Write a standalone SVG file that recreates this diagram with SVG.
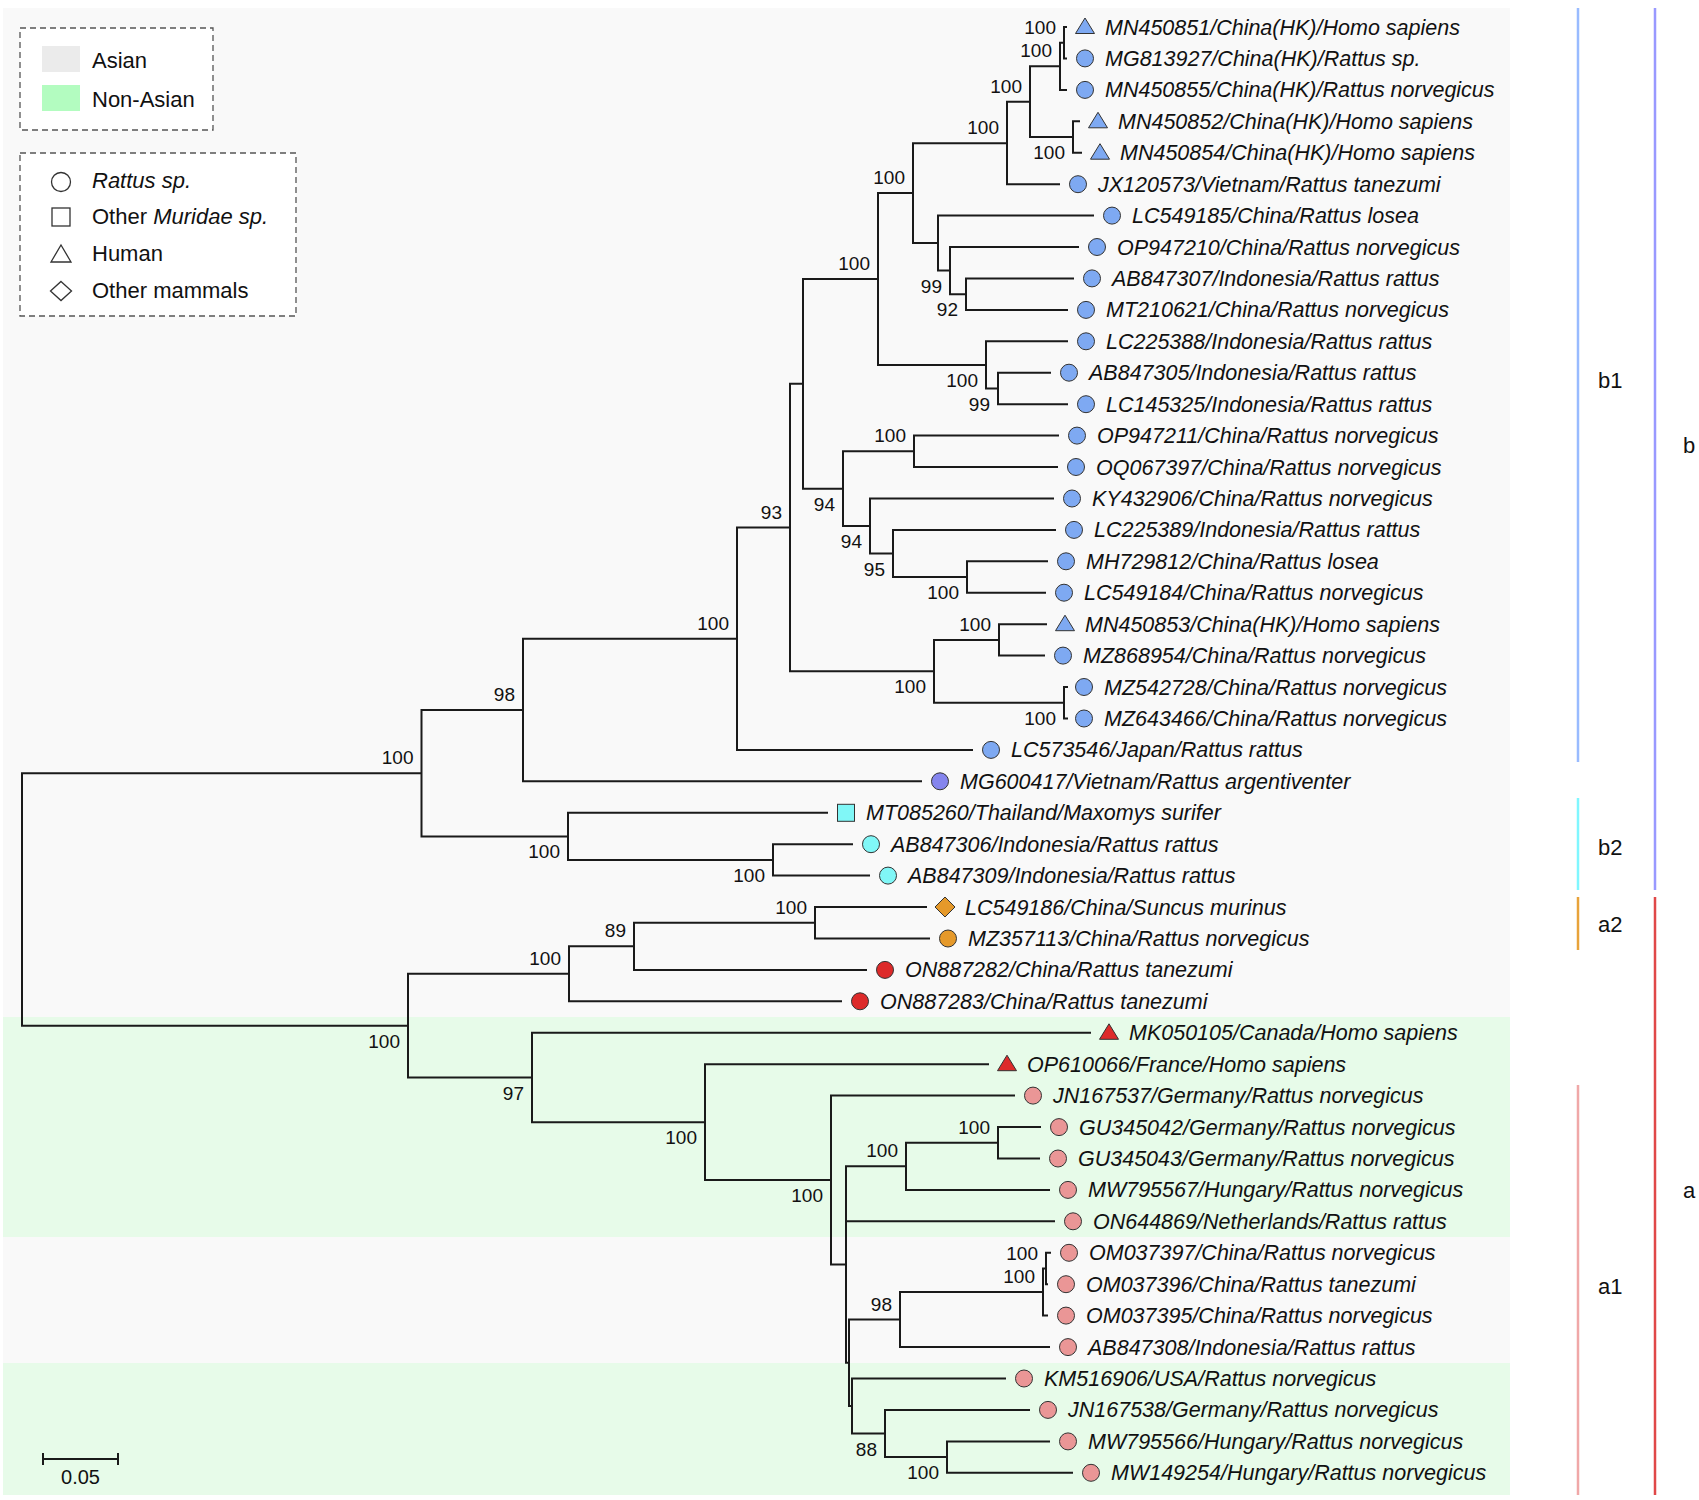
<svg xmlns="http://www.w3.org/2000/svg" xmlns:xlink="http://www.w3.org/1999/xlink" width="1699" height="1500" viewBox="0 0 1699 1500">
<style>
text{font-family:"Liberation Sans",Arial,sans-serif;fill:#111}
.lf{font-size:21.5px;font-style:italic}
.bs{font-size:19px;text-anchor:end}
.lg{font-size:22px}
.cl{font-size:22px}
.br{fill:none;stroke:#1a1a1a;stroke-width:2}
.sym{stroke:#333;stroke-width:1}
.blue{fill:#7ea9f2}.purple{fill:#8585ee}.cyan{fill:#80f7f7}.orange{fill:#e5992a}.red{fill:#dd2a2a}.pink{fill:#ea9696}
.open{fill:#fff;stroke:#333;stroke-width:1.3}
.box{fill:#fff;stroke:#555;stroke-width:1.3;stroke-dasharray:6,4}
.bar{stroke-width:2.5;fill:none}
</style>
<defs>
<circle id="ci" r="8.5"/>
<polygon id="tr" points="0,-9 9.5,6.5 -9.5,6.5"/>
<rect id="sq" x="-8.5" y="-8.5" width="17" height="17"/>
<polygon id="di" points="0,-10 10,0 0,10 -10,0"/>
</defs>
<g id="background">
<rect x="3" y="8" width="1507" height="1009" fill="#f9f9f9"/>
<rect x="3" y="1017" width="1507" height="220" fill="#e7fbe9"/>
<rect x="3" y="1237" width="1507" height="126" fill="#f9f9f9"/>
<rect x="3" y="1363" width="1507" height="132" fill="#e7fbe9"/>
</g>
<g id="legend-region">
<rect class="box" x="20" y="28" width="193" height="102"/>
<rect x="42" y="46" width="38" height="26" fill="#ebebeb"/>
<rect x="42" y="85" width="38" height="26" fill="#b3fcc0"/>
<text class="lg" x="92" y="68">Asian</text>
<text class="lg" x="92" y="107">Non-Asian</text>
</g>
<g id="legend-host">
<rect class="box" x="20" y="153" width="276" height="163"/>
<circle class="open" cx="61" cy="182" r="9.5"/>
<rect class="open" x="52" y="208" width="18" height="18"/>
<polygon class="open" points="61,245 71,262 51,262"/>
<polygon class="open" points="61,281.5 71.5,291 61,300.5 50.5,291"/>
<text class="lg" x="92" y="188" font-style="italic">Rattus sp.</text>
<text class="lg" x="92" y="224">Other <tspan font-style="italic">Muridae sp.</tspan></text>
<text class="lg" x="92" y="261">Human</text>
<text class="lg" x="92" y="298">Other mammals</text>
</g>
<g id="connectors" class="br">
<path d="M421.5,773.2H22V1025.7H408"/>
<path d="M523,710H421.5V836.4H568"/>
<path d="M737,638.7H523V781.3H922"/>
<path d="M790,527.5H737V749.9H973"/>
<path d="M803,383.8H790V671.3H934"/>
<path d="M878,279H803V488.7H843"/>
<path d="M913,193H878V364.9H986"/>
<path d="M1007,143.2H913V243.1H938"/>
<path d="M1030,101.7H1007V184.2H1060"/>
<path d="M1060,66.3H1030V137H1073"/>
<path d="M1064,42.7H1060V89.9H1067"/>
<path d="M1067,27H1064V58.4H1067"/>
<path d="M1080,121.3H1073V152.7H1082"/>
<path d="M1094,215.6H938V270.6H950"/>
<path d="M1079,247H950V294.2H966"/>
<path d="M1074,278.4H966V309.9H1068"/>
<path d="M1068,341.3H986V388.5H998"/>
<path d="M1051,372.7H998V404.2H1068"/>
<path d="M914,451.3H843V526H870"/>
<path d="M1059,435.6H914V467H1058"/>
<path d="M1054,498.5H870V553.5H893"/>
<path d="M1056,529.9H893V577H967"/>
<path d="M1048,561.3H967V592.7H1046"/>
<path d="M999,639.9H934V702.7H1064"/>
<path d="M1047,624.2H999V655.6H1045"/>
<path d="M1068,687H1064V718.5H1068"/>
<path d="M828,812.8H568V859.9H773"/>
<path d="M853,844.2H773V875.6H870"/>
<path d="M569,973.8H408V1077.5H532"/>
<path d="M634,946.3H569V1001.3H842"/>
<path d="M815,922.8H634V969.9H867"/>
<path d="M927,907H815V938.5H930"/>
<path d="M1091,1032.8H532V1122.2H705"/>
<path d="M989,1064.2H705V1180.1H831"/>
<path d="M1015,1095.6H831V1264.6H846"/>
<path d="M906,1166.3H846V1362.8H849M846,1221.3H1055"/>
<path d="M998,1142.8H906V1189.9H1050"/>
<path d="M1041,1127.1H998V1158.5H1040"/>
<path d="M900,1319.6H849V1406H852"/>
<path d="M1043,1292H900V1347.1H1050"/>
<path d="M1046,1268.5H1043V1315.6H1048"/>
<path d="M1051,1252.8H1046V1284.2H1048"/>
<path d="M1006,1378.5H852V1433.5H885"/>
<path d="M1030,1409.9H885V1457.1H947"/>
<path d="M1050,1441.4H947V1472.8H1073"/>
</g>
<g id="support-values">
<text class="bs" x="413.5" y="764.2">100</text>
<text class="bs" x="515" y="701">98</text>
<text class="bs" x="729" y="629.7">100</text>
<text class="bs" x="782" y="518.5">93</text>
<text class="bs" x="870" y="270">100</text>
<text class="bs" x="905" y="184">100</text>
<text class="bs" x="999" y="134.2">100</text>
<text class="bs" x="1022" y="92.7">100</text>
<text class="bs" x="1052" y="57.3">100</text>
<text class="bs" x="1056" y="33.7">100</text>
<text class="bs" x="1065" y="159">100</text>
<text class="bs" x="942" y="292.6">99</text>
<text class="bs" x="958" y="316.2">92</text>
<text class="bs" x="978" y="386.9">100</text>
<text class="bs" x="990" y="410.5">99</text>
<text class="bs" x="835" y="510.7">94</text>
<text class="bs" x="906" y="442.3">100</text>
<text class="bs" x="862" y="548">94</text>
<text class="bs" x="885" y="575.5">95</text>
<text class="bs" x="959" y="599">100</text>
<text class="bs" x="926" y="693.3">100</text>
<text class="bs" x="991" y="630.9">100</text>
<text class="bs" x="1056" y="724.7">100</text>
<text class="bs" x="560" y="858.4">100</text>
<text class="bs" x="765" y="881.9">100</text>
<text class="bs" x="400" y="1047.7">100</text>
<text class="bs" x="561" y="964.8">100</text>
<text class="bs" x="626" y="937.3">89</text>
<text class="bs" x="807" y="913.8">100</text>
<text class="bs" x="524" y="1099.5">97</text>
<text class="bs" x="697" y="1144.2">100</text>
<text class="bs" x="823" y="1202.1">100</text>
<text class="bs" x="898" y="1157.3">100</text>
<text class="bs" x="990" y="1133.8">100</text>
<text class="bs" x="892" y="1310.6">98</text>
<text class="bs" x="1035" y="1283">100</text>
<text class="bs" x="1038" y="1259.5">100</text>
<text class="bs" x="877" y="1455.5">88</text>
<text class="bs" x="939" y="1479.1">100</text>
</g>
<g id="leaves">
<g id="MN450851"><use href="#tr" x="1085" y="27" class="sym blue"/><text class="lf" x="1105" y="34.5">MN450851/China(HK)/Homo sapiens</text></g>
<g id="MG813927"><use href="#ci" x="1085" y="58.4" class="sym blue"/><text class="lf" x="1105" y="65.9">MG813927/China(HK)/Rattus sp.</text></g>
<g id="MN450855"><use href="#ci" x="1085" y="89.9" class="sym blue"/><text class="lf" x="1105" y="97.4">MN450855/China(HK)/Rattus norvegicus</text></g>
<g id="MN450852"><use href="#tr" x="1098" y="121.3" class="sym blue"/><text class="lf" x="1118" y="128.8">MN450852/China(HK)/Homo sapiens</text></g>
<g id="MN450854"><use href="#tr" x="1100" y="152.7" class="sym blue"/><text class="lf" x="1120" y="160.2">MN450854/China(HK)/Homo sapiens</text></g>
<g id="JX120573"><use href="#ci" x="1078" y="184.2" class="sym blue"/><text class="lf" x="1098" y="191.7">JX120573/Vietnam/Rattus tanezumi</text></g>
<g id="LC549185"><use href="#ci" x="1112" y="215.6" class="sym blue"/><text class="lf" x="1132" y="223.1">LC549185/China/Rattus losea</text></g>
<g id="OP947210"><use href="#ci" x="1097" y="247" class="sym blue"/><text class="lf" x="1117" y="254.5">OP947210/China/Rattus norvegicus</text></g>
<g id="AB847307"><use href="#ci" x="1092" y="278.4" class="sym blue"/><text class="lf" x="1112" y="285.9">AB847307/Indonesia/Rattus rattus</text></g>
<g id="MT210621"><use href="#ci" x="1086" y="309.9" class="sym blue"/><text class="lf" x="1106" y="317.4">MT210621/China/Rattus norvegicus</text></g>
<g id="LC225388"><use href="#ci" x="1086" y="341.3" class="sym blue"/><text class="lf" x="1106" y="348.8">LC225388/Indonesia/Rattus rattus</text></g>
<g id="AB847305"><use href="#ci" x="1069" y="372.7" class="sym blue"/><text class="lf" x="1089" y="380.2">AB847305/Indonesia/Rattus rattus</text></g>
<g id="LC145325"><use href="#ci" x="1086" y="404.2" class="sym blue"/><text class="lf" x="1106" y="411.7">LC145325/Indonesia/Rattus rattus</text></g>
<g id="OP947211"><use href="#ci" x="1077" y="435.6" class="sym blue"/><text class="lf" x="1097" y="443.1">OP947211/China/Rattus norvegicus</text></g>
<g id="OQ067397"><use href="#ci" x="1076" y="467" class="sym blue"/><text class="lf" x="1096" y="474.5">OQ067397/China/Rattus norvegicus</text></g>
<g id="KY432906"><use href="#ci" x="1072" y="498.5" class="sym blue"/><text class="lf" x="1092" y="506">KY432906/China/Rattus norvegicus</text></g>
<g id="LC225389"><use href="#ci" x="1074" y="529.9" class="sym blue"/><text class="lf" x="1094" y="537.4">LC225389/Indonesia/Rattus rattus</text></g>
<g id="MH729812"><use href="#ci" x="1066" y="561.3" class="sym blue"/><text class="lf" x="1086" y="568.8">MH729812/China/Rattus losea</text></g>
<g id="LC549184"><use href="#ci" x="1064" y="592.7" class="sym blue"/><text class="lf" x="1084" y="600.2">LC549184/China/Rattus norvegicus</text></g>
<g id="MN450853"><use href="#tr" x="1065" y="624.2" class="sym blue"/><text class="lf" x="1085" y="631.7">MN450853/China(HK)/Homo sapiens</text></g>
<g id="MZ868954"><use href="#ci" x="1063" y="655.6" class="sym blue"/><text class="lf" x="1083" y="663.1">MZ868954/China/Rattus norvegicus</text></g>
<g id="MZ542728"><use href="#ci" x="1084" y="687" class="sym blue"/><text class="lf" x="1104" y="694.5">MZ542728/China/Rattus norvegicus</text></g>
<g id="MZ643466"><use href="#ci" x="1084" y="718.5" class="sym blue"/><text class="lf" x="1104" y="726">MZ643466/China/Rattus norvegicus</text></g>
<g id="LC573546"><use href="#ci" x="991" y="749.9" class="sym blue"/><text class="lf" x="1011" y="757.4">LC573546/Japan/Rattus rattus</text></g>
<g id="MG600417"><use href="#ci" x="940" y="781.3" class="sym purple"/><text class="lf" x="960" y="788.8">MG600417/Vietnam/Rattus argentiventer</text></g>
<g id="MT085260"><use href="#sq" x="846" y="812.8" class="sym cyan"/><text class="lf" x="866" y="820.3">MT085260/Thailand/Maxomys surifer</text></g>
<g id="AB847306"><use href="#ci" x="871" y="844.2" class="sym cyan"/><text class="lf" x="891" y="851.7">AB847306/Indonesia/Rattus rattus</text></g>
<g id="AB847309"><use href="#ci" x="888" y="875.6" class="sym cyan"/><text class="lf" x="908" y="883.1">AB847309/Indonesia/Rattus rattus</text></g>
<g id="LC549186"><use href="#di" x="945" y="907" class="sym orange"/><text class="lf" x="965" y="914.5">LC549186/China/Suncus murinus</text></g>
<g id="MZ357113"><use href="#ci" x="948" y="938.5" class="sym orange"/><text class="lf" x="968" y="946">MZ357113/China/Rattus norvegicus</text></g>
<g id="ON887282"><use href="#ci" x="885" y="969.9" class="sym red"/><text class="lf" x="905" y="977.4">ON887282/China/Rattus tanezumi</text></g>
<g id="ON887283"><use href="#ci" x="860" y="1001.3" class="sym red"/><text class="lf" x="880" y="1008.8">ON887283/China/Rattus tanezumi</text></g>
<g id="MK050105"><use href="#tr" x="1109" y="1032.8" class="sym red"/><text class="lf" x="1129" y="1040.3">MK050105/Canada/Homo sapiens</text></g>
<g id="OP610066"><use href="#tr" x="1007" y="1064.2" class="sym red"/><text class="lf" x="1027" y="1071.7">OP610066/France/Homo sapiens</text></g>
<g id="JN167537"><use href="#ci" x="1033" y="1095.6" class="sym pink"/><text class="lf" x="1053" y="1103.1">JN167537/Germany/Rattus norvegicus</text></g>
<g id="GU345042"><use href="#ci" x="1059" y="1127.1" class="sym pink"/><text class="lf" x="1079" y="1134.6">GU345042/Germany/Rattus norvegicus</text></g>
<g id="GU345043"><use href="#ci" x="1058" y="1158.5" class="sym pink"/><text class="lf" x="1078" y="1166">GU345043/Germany/Rattus norvegicus</text></g>
<g id="MW795567"><use href="#ci" x="1068" y="1189.9" class="sym pink"/><text class="lf" x="1088" y="1197.4">MW795567/Hungary/Rattus norvegicus</text></g>
<g id="ON644869"><use href="#ci" x="1073" y="1221.3" class="sym pink"/><text class="lf" x="1093" y="1228.8">ON644869/Netherlands/Rattus rattus</text></g>
<g id="OM037397"><use href="#ci" x="1069" y="1252.8" class="sym pink"/><text class="lf" x="1089" y="1260.3">OM037397/China/Rattus norvegicus</text></g>
<g id="OM037396"><use href="#ci" x="1066" y="1284.2" class="sym pink"/><text class="lf" x="1086" y="1291.7">OM037396/China/Rattus tanezumi</text></g>
<g id="OM037395"><use href="#ci" x="1066" y="1315.6" class="sym pink"/><text class="lf" x="1086" y="1323.1">OM037395/China/Rattus norvegicus</text></g>
<g id="AB847308"><use href="#ci" x="1068" y="1347.1" class="sym pink"/><text class="lf" x="1088" y="1354.6">AB847308/Indonesia/Rattus rattus</text></g>
<g id="KM516906"><use href="#ci" x="1024" y="1378.5" class="sym pink"/><text class="lf" x="1044" y="1386">KM516906/USA/Rattus norvegicus</text></g>
<g id="JN167538"><use href="#ci" x="1048" y="1409.9" class="sym pink"/><text class="lf" x="1068" y="1417.4">JN167538/Germany/Rattus norvegicus</text></g>
<g id="MW795566"><use href="#ci" x="1068" y="1441.4" class="sym pink"/><text class="lf" x="1088" y="1448.9">MW795566/Hungary/Rattus norvegicus</text></g>
<g id="MW149254"><use href="#ci" x="1091" y="1472.8" class="sym pink"/><text class="lf" x="1111" y="1480.3">MW149254/Hungary/Rattus norvegicus</text></g>
</g>
<g id="clades">
<line class="bar" x1="1578" y1="8" x2="1578" y2="762" stroke="#99bbff"/>
<line class="bar" x1="1578" y1="798" x2="1578" y2="890" stroke="#80f7ff"/>
<line class="bar" x1="1578" y1="897" x2="1578" y2="950" stroke="#e8a33a"/>
<line class="bar" x1="1578" y1="1085" x2="1578" y2="1495" stroke="#f0a8a8"/>
<line class="bar" x1="1655" y1="8" x2="1655" y2="890" stroke="#9999ff"/>
<line class="bar" x1="1655" y1="897" x2="1655" y2="1495" stroke="#e04848"/>
<text class="cl" x="1598" y="388">b1</text>
<text class="cl" x="1598" y="855">b2</text>
<text class="cl" x="1598" y="932">a2</text>
<text class="cl" x="1598" y="1294">a1</text>
<text class="cl" x="1683" y="453">b</text>
<text class="cl" x="1683" y="1198">a</text>
</g>
<g id="scale-bar">
<path class="br" d="M43,1459H118M43,1453V1465M118,1453V1465"/>
<text x="80.5" y="1484" font-size="20" text-anchor="middle">0.05</text>
</g>
</svg>
